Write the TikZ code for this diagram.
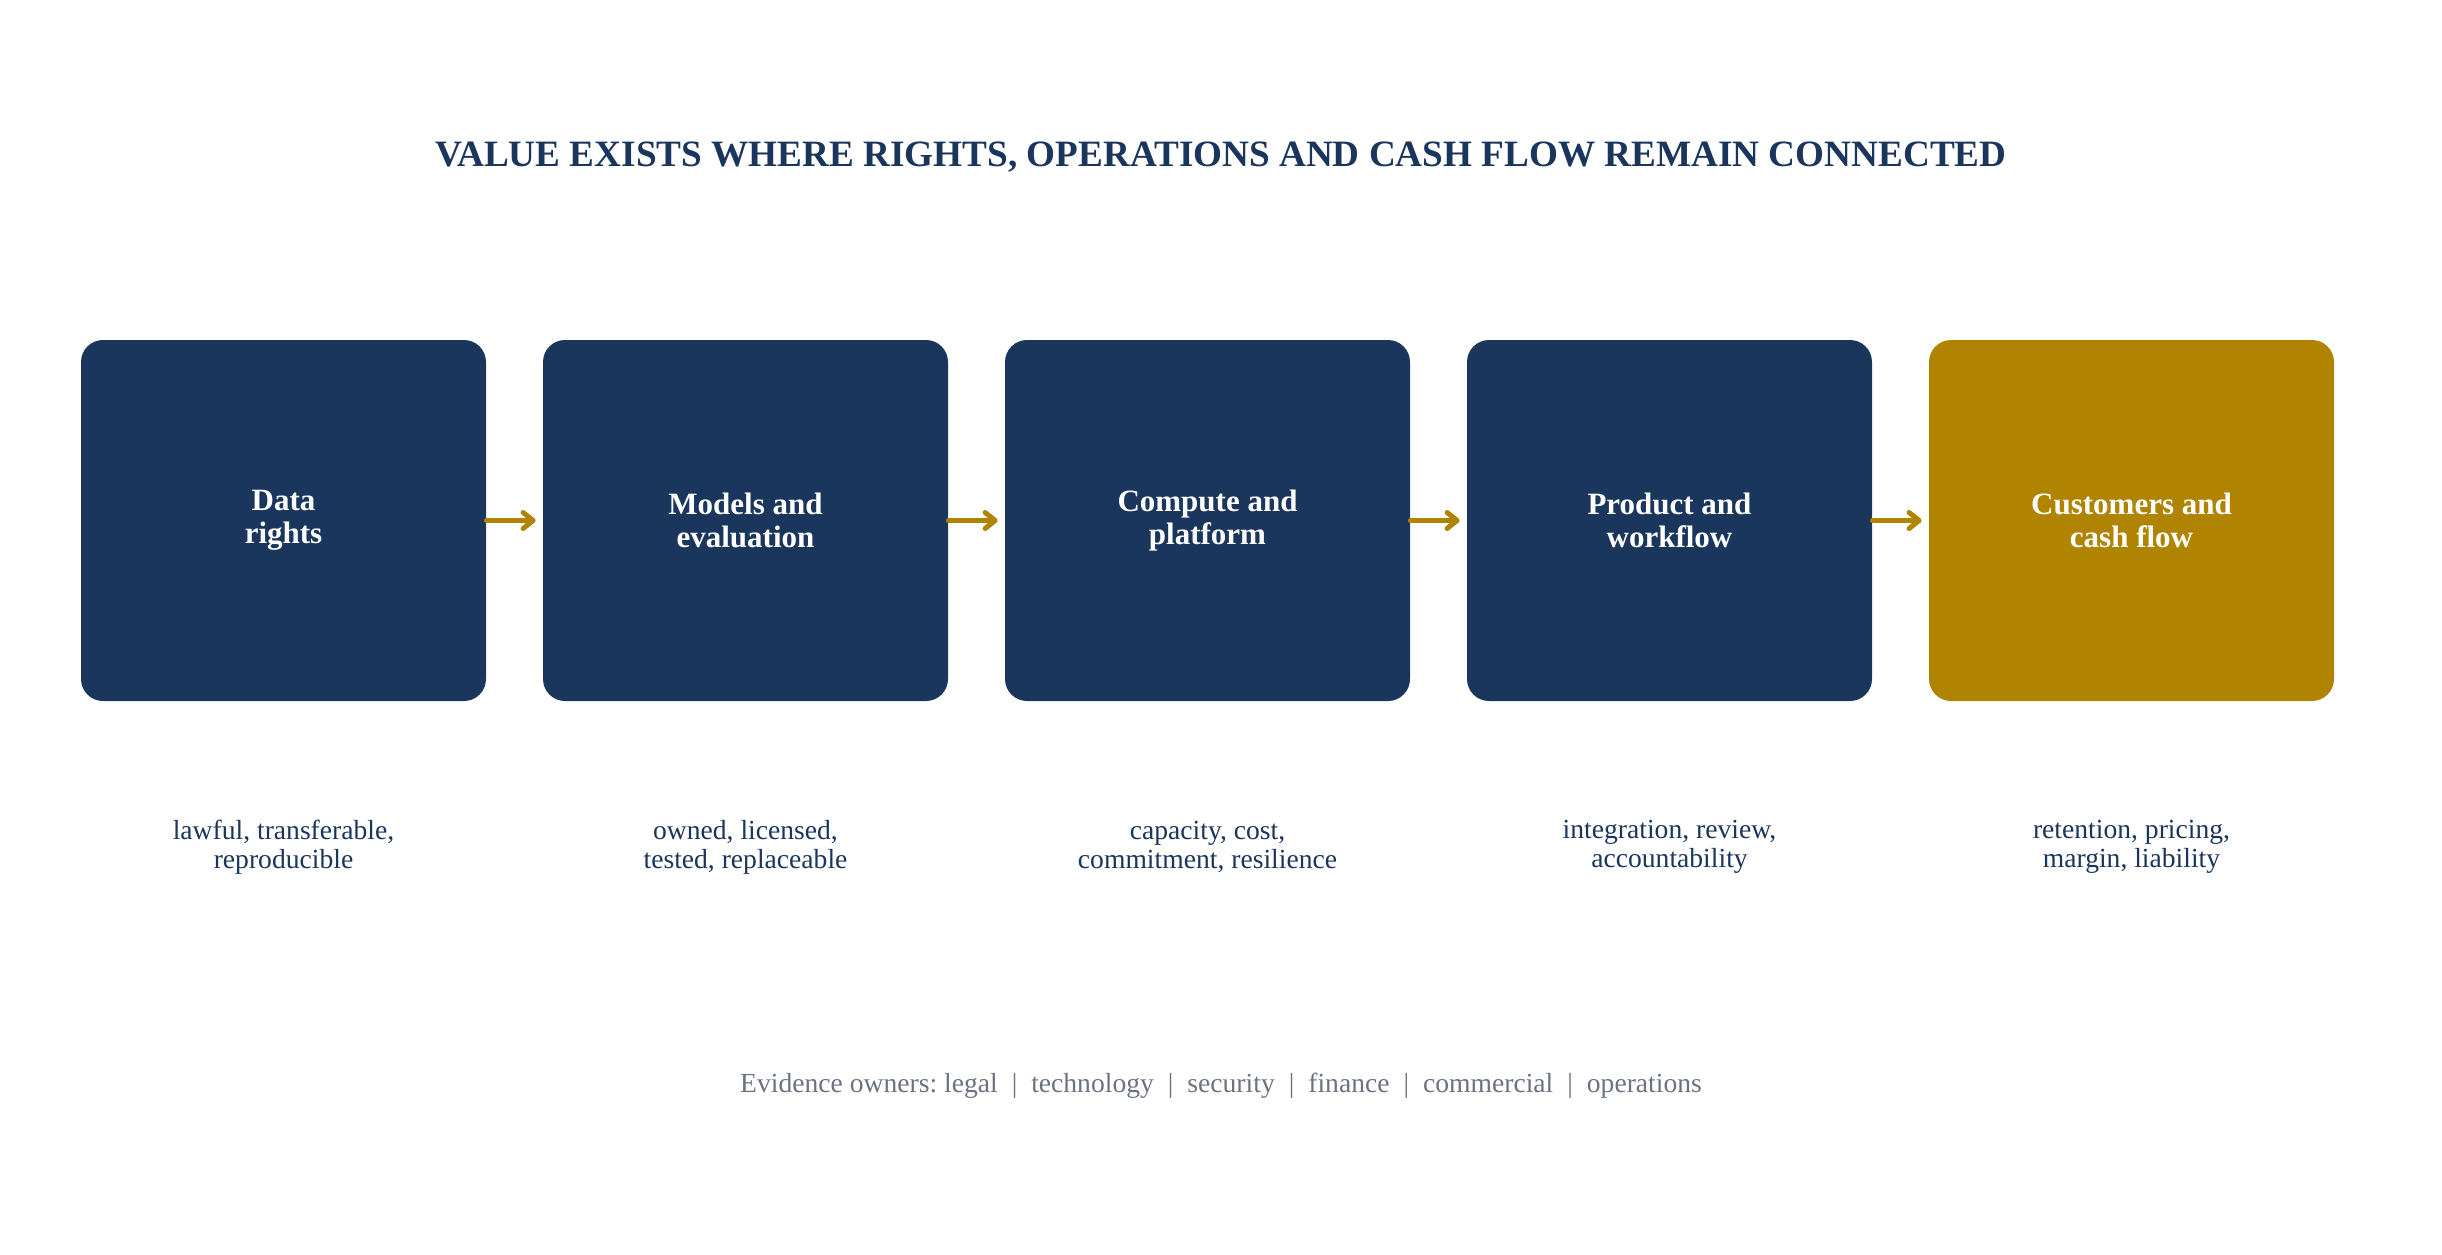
\documentclass[tikz,border=0pt]{standalone}
\usepackage{fontspec}
\setmainfont{Liberation Serif}
\usetikzlibrary{arrows.meta}

\definecolor{navy}{RGB}{26,54,93}
\definecolor{gold}{RGB}{176,132,0}
\definecolor{slate}{RGB}{107,114,128}

\newcommand{\sep}{\hspace{7pt}|\hspace{7pt}}
\frenchspacing

\begin{document}
\begin{tikzpicture}[x=0.5pt, y=-0.5pt,
            stage/.style={rectangle, rounded corners=11pt, fill=navy, text=white,
            minimum width=202.5pt, minimum height=180.5pt, align=center,
            font=\fontsize{15.5}{16.5}\selectfont\bfseries},
            note/.style={text=navy, align=center, font=\fontsize{13.8}{14.6}\selectfont},
            flow/.style={draw=gold, line width=2.5pt, line cap=round,
            -{Straight Barb[length=5pt, width=8pt, round]}}]
            \useasboundingbox (0,0) rectangle (2442,1254);

            \node[text=navy, anchor=base, font=\fontsize{18.6}{22}\selectfont\bfseries] (title) at (1221,166.7)
            {VALUE EXISTS WHERE RIGHTS, OPERATIONS AND CASH FLOW REMAIN CONNECTED};

            \node[stage] (data) at (283.5,520.5) {Data\\rights};
            \node[stage] (models) at (745.5,520.5) {Models and\\evaluation};
            \node[stage] (compute) at (1207.5,520.5) {Compute and\\platform};
            \node[stage] (product) at (1669.5,520.5) {Product and\\workflow};
            \node[stage, fill=gold] (customers) at (2131.5,520.5) {Customers and\\cash flow};

            \draw[flow] (data.east) -- ([xshift=-3.5pt]models.west);
            \draw[flow] (models.east) -- ([xshift=-3.5pt]compute.west);
            \draw[flow] (compute.east) -- ([xshift=-3.5pt]product.west);
            \draw[flow] (product.east) -- ([xshift=-3.5pt]customers.west);

            \node[note] (datanote) at (283.5,847) {lawful, transferable,\\reproducible};
            \node[note] (modelsnote) at (745.5,847) {owned, licensed,\\tested, replaceable};
            \node[note] (computenote) at (1207.5,847) {capacity, cost,\\commitment, resilience};
            \node[note] (productnote) at (1669.5,847) {integration, review,\\accountability};
            \node[note] (customersnote) at (2131.5,847) {retention, pricing,\\margin, liability};

            \node[text=slate, anchor=base, font=\fontsize{13.8}{16}\selectfont] (owners) at (1221,1092.7)
            {Evidence owners: legal\sep technology\sep security\sep finance\sep commercial\sep operations};
        \end{tikzpicture}
\end{document}
